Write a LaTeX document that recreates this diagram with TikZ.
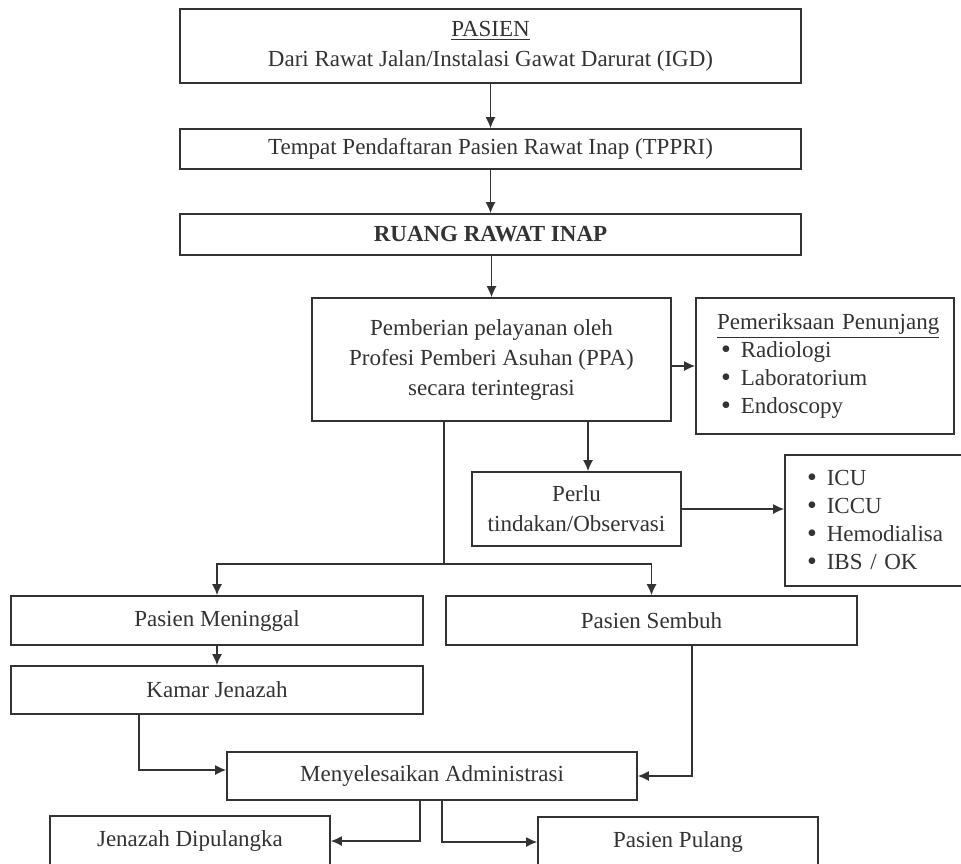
\documentclass[tikz,border=0pt]{standalone}
\usepackage{fontspec}
\setmainfont{Liberation Serif}
\usepackage{xcolor}
\usetikzlibrary{arrows.meta}
\definecolor{ink}{gray}{0.2}
\newcommand{\itm}{\raisebox{-0.5pt}{\fontsize{14}{14}\selectfont\textbullet}\hspace{5pt}}

\begin{document}
\begin{tikzpicture}[x=0.5pt,y=-0.5pt,>={Latex[length=5.5pt,width=5pt]}]
	\tikzstyle{every node}+=[inner sep=0pt,text=ink,font=\fontsize{11.5}{15}\selectfont]
	\tikzstyle{box}=[draw=ink,line width=0.8pt,align=center]
	\tikzstyle{list}=[draw=ink,line width=0.8pt,align=left,font=\fontsize{11.5}{14}\selectfont]
	\tikzstyle{link}=[draw=ink,line width=0.8pt]
	\clip (0,0) rectangle (961,863);
	\fill [white] (0,0) rectangle (961,863);
	\node [box,minimum width=310.5pt,minimum height=37pt] (pasien) at (490.5,46) {\underline{PASIEN}\\Dari Rawat Jalan/Instalasi Gawat Darurat (IGD)};
	\node [box,minimum width=310.5pt,minimum height=20pt] (tppri) at (490.5,149) {Tempat Pendaftaran Pasien Rawat Inap (TPPRI)};
	\node [box,minimum width=310.5pt,minimum height=20.5pt] (ruang) at (490.5,234.5) {\textbf{RUANG RAWAT INAP}};
	\node [box,minimum width=179.5pt,minimum height=61.5pt] (ppa) at (491.5,359.5) {Pemberian pelayanan oleh\\Profesi Pemberi Asuhan (PPA)\\secara terintegrasi};
	\node [list,text width=108pt,inner xsep=10.5pt,minimum height=68pt] (penunjang) at (825,366) {\underline{Pemeriksaan Penunjang}\\\hspace*{2pt}\itm Radiologi\\\hspace*{2pt}\itm Laboratorium\\\hspace*{2pt}\itm Endoscopy};
	\node [box,minimum width=104.5pt,minimum height=37pt] (perlu) at (576.5,509) {Perlu\\tindakan/Observasi};
	\node [list,text width=73pt,inner xsep=11pt,minimum height=65.5pt] (icu) at (880,520.5) {\itm ICU\\\itm ICCU\\\itm Hemodialisa\\\itm IBS / OK};
	\node [box,minimum width=206pt,minimum height=24.5pt] (meninggal) at (217,620.5) {Pasien Meninggal};
	\node [box,minimum width=205.5pt,minimum height=24.5pt] (sembuh) at (651.5,620.5) {Pasien Sembuh};
	\node [box,minimum width=206pt,minimum height=24pt] (kamar) at (217,690) {Kamar Jenazah};
	\node [box,minimum width=205pt,minimum height=24pt] (admin) at (432,776) {Menyelesaikan Administrasi};
	\node [box,minimum width=140pt,minimum height=25pt] (jenazah) at (190,841) {Jenazah Dipulangka};
	\node [box,minimum width=140pt,minimum height=25pt] (pulang) at (678,842) {Pasien Pulang};
	\coordinate (split) at (444,564);
	\coordinate (perlutop) at ([xshift=5.75pt]perlu.north);
	\coordinate (kamarout) at ([xshift=-39pt]kamar.south);
	\coordinate (sembuhout) at ([xshift=20.25pt]sembuh.south);
	\draw [link,->] (pasien.south) -- (tppri.north);
	\draw [link,->] (tppri.south) -- (ruang.north);
	\draw [link,->] (ruang.south -| ppa.north) -- (ppa.north);
	\draw [link,->] (ppa.east |- penunjang.west) -- (penunjang.west);
	\draw [link,->] (perlutop |- ppa.south) -- (perlutop);
	\draw [link,->] (perlu.east) -- (perlu.east -| icu.west);
	\draw [link] (ppa.south -| split) -- (split);
	\draw [link,->] (split) -| (meninggal.north);
	\draw [link,->] (split) -| (sembuh.north);
	\draw [link,->] (meninggal.south) -- (kamar.north);
	\draw [link,->] (kamarout) |- ([yshift=3pt]admin.west);
	\draw [link,->] (sembuhout) |- (admin.east);
	\draw [link,->] ([xshift=-6pt]admin.south) |- (jenazah.east);
	\draw [link,->] ([xshift=5pt]admin.south) |- (pulang.west);
\end{tikzpicture}
\end{document}
